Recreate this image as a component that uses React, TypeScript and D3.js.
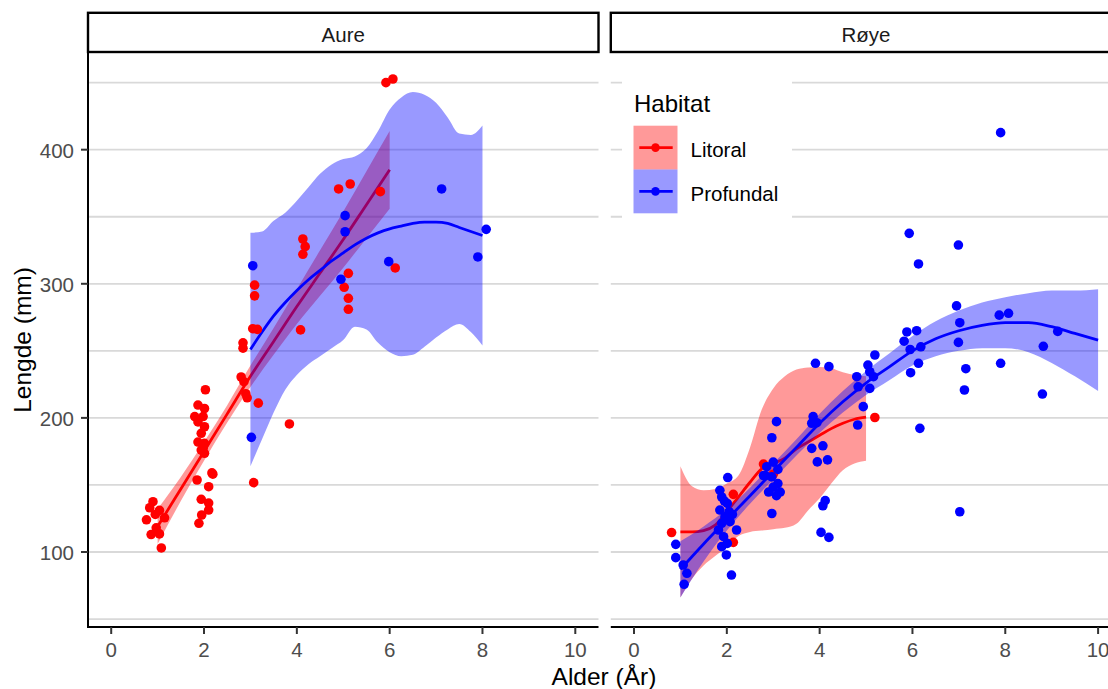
import React from "react";
import * as d3 from "d3";

const FONT = "'Liberation Sans', Arial, Helvetica, sans-serif";

// ---------- categories & labels ----------
const panels = ["Aure", "Røye"];
const habitats = ["Litoral", "Profundal"];
const habitatColors = ["#FF0000", "#0000FF"];
const xTickValues = [0, 2, 4, 6, 8, 10];
const yTickValues = [100, 200, 300, 400];
const yGridValues = [50, 100, 150, 200, 250, 300, 350, 400, 450];
const xTitle = "Alder (År)";
const yTitle = "Lengde (mm)";
const legendTitle = "Habitat";

// ---------- observed points: [alder, lengde] ----------
const aureLitoral: [number, number][] = [
  [0.76, 124], [0.83, 133], [0.9, 137.5], [1.04, 131], [1.15, 125.5], [0.97, 118], [0.86, 113], [1.04, 113.5], [1.08, 103], [0.95, 128],
  [1.87, 209.6], [2.01, 207], [1.8, 201], [1.98, 201], [1.87, 197], [2.01, 193.4], [1.94, 188.5], [1.87, 182], [2.01, 181], [1.98, 177.3], [2.01, 173.6], [1.94, 176], [2.03, 221],
  [1.85, 153.7], [2.17, 159], [2.19, 158], [2.1, 148.7], [1.94, 139.3], [2.1, 136.5], [2.1, 131.3], [1.95, 127.6], [1.89, 121.4],
  [3.09, 299], [3.09, 291], [3.05, 266.5], [3.15, 266], [2.84, 256], [2.84, 252], [2.8, 230.5], [2.86, 227], [2.9, 218], [2.93, 215], [3.17, 211], [3.07, 151.7],
  [4.08, 265.6], [3.84, 195.5], [4.13, 333.4], [4.18, 327.7], [4.13, 322],
  [4.9, 370.7], [5.15, 374.4], [5.11, 307.8], [5.02, 297.4], [5.11, 289.2], [5.11, 281],
  [5.8, 368.7], [5.92, 450], [6.07, 452.7], [6.12, 311.8],
];
const aureProfundal: [number, number][] = [
  [3.05, 313.5], [3.02, 185.5], [4.95, 303.4], [5.04, 350.8], [5.04, 338.8], [5.98, 316.5], [7.12, 370.7], [7.9, 320], [8.08, 340.6],
];
const royeLitoral: [number, number][] = [
  [0.81, 114.5], [2.14, 143], [2.14, 107.2], [2.79, 165.6], [5.19, 200.3], [2.0, 125], [3.0, 158],
];
const royeProfundal: [number, number][] = [
  [0.9, 105.7], [0.9, 95.8], [1.06, 90.3], [1.14, 84.1], [1.08, 75.9],
  [2.02, 155.5], [1.85, 146], [1.89, 141], [2.01, 136.2], [1.85, 131.3], [1.96, 126.3], [1.89, 121.4], [2.07, 122.6], [2.21, 116.4], [1.82, 116.4],
  [1.93, 111.4], [2.01, 106.4], [1.89, 104], [1.99, 97.8], [2.1, 82.8], [2.05, 130], [2.12, 128], [1.95, 138],
  [2.79, 157], [2.86, 163.6], [3.0, 167], [3.1, 161.6], [2.83, 157], [2.97, 156], [3.1, 151], [2.9, 144.7], [3.15, 144.7], [3.0, 148.4], [3.07, 142],
  [2.97, 128.7], [3.07, 197.2], [2.97, 185.2],
  [3.91, 240.7], [4.2, 238.2], [3.86, 201], [3.83, 196], [3.94, 196.4], [3.83, 177.3], [4.07, 179.2], [3.95, 167.2], [4.17, 168.7],
  [4.12, 138.3], [4.07, 134.5], [4.03, 114.6], [4.2, 110.9],
  [5.19, 246.9], [5.04, 239.4], [5.08, 234.4], [4.8, 230.7], [5.16, 230.7], [4.83, 223.2], [5.08, 222], [4.94, 208.4], [4.82, 194.7],
  [5.93, 337.6], [6.13, 314.8], [5.88, 264.1], [6.09, 265], [5.82, 257.2], [5.95, 251], [6.18, 253], [6.13, 240.7], [5.96, 233.7], [6.16, 192.2],
  [6.99, 328.9], [6.95, 283.5], [7.02, 271], [6.99, 256.3], [7.15, 236.7], [7.12, 220.8], [7.02, 130],
  [7.9, 412.7], [7.87, 276.6], [8.07, 278], [7.9, 240.7],
  [9.13, 264.5], [8.82, 253.4], [8.8, 217.8],
];

// ---------- smooth fits ----------
const aureLitoralFitX = [1, 1.5, 2, 2.5, 3, 3.5, 4, 4.5, 5, 5.5, 6];
const aureLitoralFit = [119, 147, 175, 203, 231, 257, 283, 308, 333, 359, 385];
const aureLitoralLo = [106, 138, 168, 196.5, 223, 247, 270, 291, 312, 334, 356];
const aureLitoralHi = [132, 156, 182, 209.5, 239, 267, 296, 325, 354, 384, 414];

const aureProfundalFitX = [3, 3.25, 3.5, 3.75, 4, 4.25, 4.5, 4.75, 5, 5.25, 5.5, 5.75, 6, 6.25, 6.5, 6.75, 7, 7.25, 7.5, 7.75, 8];
const aureProfundalFit = [251, 264, 276, 286, 295, 303, 310, 317, 323, 329, 334, 338, 341, 343, 345, 346, 346, 345, 342, 339, 336];
const aureProfundalLo = [164, 184, 204, 221, 232, 240, 246, 252, 258, 268, 266, 256, 249, 246, 247, 253, 260, 266, 270, 264, 254];
const aureProfundalHi = [338, 339, 347, 353, 362, 372, 382, 389, 393, 395, 401, 414, 430, 439, 443, 441, 435, 424, 412, 411, 418];

const royeLitoralFitX = [1, 1.25, 1.5, 1.75, 2, 2.25, 2.5, 2.75, 3, 3.25, 3.5, 3.75, 4, 4.25, 4.5, 4.75, 5];
const royeLitoralFit = [115, 115, 116, 120, 130, 141, 152, 162, 166, 170, 177, 182, 187, 192, 196, 199, 200.5];
const royeLitoralLo = [66, 80, 90, 97, 104, 112, 115, 116, 117, 118, 121, 131, 140, 151, 161, 166, 168];
const royeLitoralHi = [164, 149, 146, 147, 151, 157, 178, 206, 222, 231, 236, 237.5, 238, 237, 234, 232, 231];

const royeProfundalFitX = [1, 1.5, 2, 2.5, 3, 3.5, 4, 4.5, 5, 5.5, 6, 6.5, 7, 7.5, 8, 8.5, 9, 9.5, 10];
const royeProfundalFit = [87, 106, 124, 142, 160, 178, 196, 212, 226, 238, 250, 259, 265, 269, 271, 271, 268, 263, 258];
const royeProfundalLo = [66, 93, 116, 136, 154, 172, 189, 204, 217, 228, 239, 246, 250, 252, 252, 249, 241, 231, 220];
const royeProfundalHi = [108, 119, 132, 148, 166, 184, 203, 220, 235, 248, 261, 272, 280, 286, 290, 293, 295, 295, 296];

// ---------- assembled per panel ----------
const panelPoints = [
  [aureLitoral, aureProfundal],
  [royeLitoral, royeProfundal],
];
const panelSmooths = [
  [
    { x: aureLitoralFitX, fit: aureLitoralFit, lo: aureLitoralLo, hi: aureLitoralHi },
    { x: aureProfundalFitX, fit: aureProfundalFit, lo: aureProfundalLo, hi: aureProfundalHi },
  ],
  [
    { x: royeLitoralFitX, fit: royeLitoralFit, lo: royeLitoralLo, hi: royeLitoralHi },
    { x: royeProfundalFitX, fit: royeProfundalFit, lo: royeProfundalLo, hi: royeProfundalHi },
  ],
];

// ---------- layout ----------
const W = 1108;
const H = 689;
const panelLefts = [88, 610.8];
const panelWidth = 510.5;
const panelTop = 53;
const panelBottom = 627;
const stripTop = 12.8;
const stripBottom = 52;
const smallFont = 20.5;
const bigFont = 24.5;

const yScale = d3.scaleLinear().domain([44.07, 472.1]).range([panelBottom, panelTop]);

export default function App() {
  return (
    <div>
      <style>{`body{margin:0;background:#fff}`}</style>
      <svg width={W} height={H} style={{ display: "block", fontFamily: FONT }}>
        <rect x={0} y={0} width={W} height={H} fill="#ffffff" />
        <defs>
          {panels.map((p, i) => (
            <clipPath id={`clip${i}`} key={p}>
              <rect x={panelLefts[i]} y={panelTop} width={panelWidth} height={panelBottom - panelTop} />
            </clipPath>
          ))}
        </defs>
        {panels.map((p, pi) => {
          const left = panelLefts[pi];
          const x = d3.scaleLinear().domain([-0.5, 10.5]).range([left, left + panelWidth]);
          return (
            <g key={p}>
              {/* grid */}
              {yGridValues.map((v) => (
                <line key={v} x1={left} x2={left + panelWidth} y1={yScale(v)} y2={yScale(v)} stroke="#d9d9d9" strokeWidth={1.8} />
              ))}
              {/* smooths */}
              <g clipPath={`url(#clip${pi})`}>
                {panelSmooths[pi].map((s, hi) => {
                  const idx = s.x.map((_, i) => i);
                  const ribbon = d3
                    .area<number>()
                    .x((i) => x(s.x[i]))
                    .y0((i) => yScale(s.lo[i]))
                    .y1((i) => yScale(s.hi[i]))
                    .curve(d3.curveMonotoneX)(idx);
                  const line = d3
                    .line<number>()
                    .x((i) => x(s.x[i]))
                    .y((i) => yScale(s.fit[i]))
                    .curve(d3.curveMonotoneX)(idx);
                  return (
                    <g key={hi}>
                      <path d={ribbon || ""} fill={habitatColors[hi]} fillOpacity={0.4} stroke="none" />
                      <path d={line || ""} fill="none" stroke={habitatColors[hi]} strokeWidth={2.8} />
                    </g>
                  );
                })}
                {panelPoints[pi].map((pts, hi) =>
                  pts.map((d, k) => (
                    <circle key={`${hi}-${k}`} cx={x(d[0])} cy={yScale(d[1])} r={4.8} fill={habitatColors[hi]} />
                  ))
                )}
              </g>
              {/* x axis */}
              <line x1={left} x2={left + panelWidth} y1={panelBottom} y2={panelBottom} stroke="#000" strokeWidth={2} />
              {xTickValues.map((t) => (
                <g key={t}>
                  <line x1={x(t)} x2={x(t)} y1={panelBottom} y2={panelBottom + 7} stroke="#333" strokeWidth={2} />
                  <text x={x(t)} y={657} textAnchor="middle" fontSize={smallFont} fill="#4d4d4d">
                    {t}
                  </text>
                </g>
              ))}
              {/* y axis (first panel only) */}
              {pi === 0 && (
                <g>
                  <line x1={left} x2={left} y1={panelTop} y2={panelBottom + 1} stroke="#000" strokeWidth={2} />
                  {yTickValues.map((t) => (
                    <g key={t}>
                      <line x1={left - 7} x2={left} y1={yScale(t)} y2={yScale(t)} stroke="#333" strokeWidth={2} />
                      <text x={74} y={yScale(t) + 8.3} textAnchor="end" fontSize={smallFont} fill="#4d4d4d">
                        {t}
                      </text>
                    </g>
                  ))}
                </g>
              )}
              {/* strip */}
              <rect x={left} y={stripTop} width={panelWidth} height={stripBottom - stripTop} fill="#fff" stroke="#000" strokeWidth={2.4} />
              <text x={left + panelWidth / 2} y={41.5} textAnchor="middle" fontSize={smallFont} fill="#1a1a1a">
                {p}
              </text>
            </g>
          );
        })}

        {/* legend */}
        <g>
          <rect x={622} y={72} width={170} height={154} fill="#fff" />
          <text x={634} y={111.7} fontSize={bigFont - 0.5} fill="#000">
            {legendTitle}
          </text>
          {habitats.map((h, i) => {
            const ky = 125.7 + i * 43.8;
            const cy = ky + 21.9;
            return (
              <g key={h}>
                <rect x={633.5} y={ky} width={44} height={43.8} fill={habitatColors[i]} fillOpacity={0.4} />
                <line x1={639.3} x2={672.7} y1={cy} y2={cy} stroke={habitatColors[i]} strokeWidth={2.8} />
                <circle cx={655.5} cy={cy} r={4.3} fill={habitatColors[i]} />
                <text x={690.5} y={cy + 9.5} fontSize={smallFont} fill="#000">
                  {h}
                </text>
              </g>
            );
          })}
        </g>

        {/* axis titles */}
        <text transform={`translate(31,340) rotate(-90)`} textAnchor="middle" fontSize={bigFont} fill="#000">
          {yTitle}
        </text>
        <text x={604} y={685} textAnchor="middle" fontSize={bigFont} fill="#000">
          {xTitle}
        </text>
      </svg>
    </div>
  );
}
